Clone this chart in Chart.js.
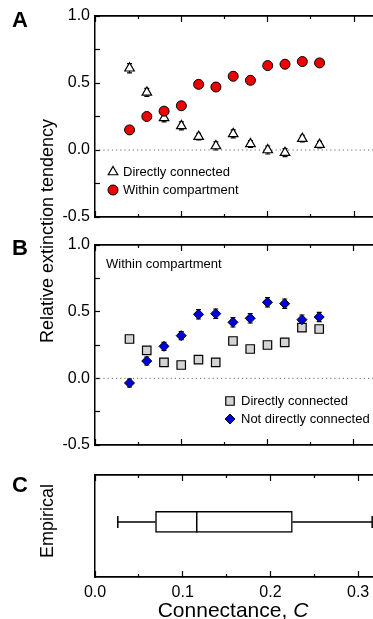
<!DOCTYPE html>
<html>
<head>
<meta charset="utf-8">
<script src="https://cdn.jsdelivr.net/npm/chart.js@4.4.1/dist/chart.umd.min.js"></script>
<style>
  html, body { margin: 0; padding: 0; background: #fff; width: 373px; height: 619px; overflow: hidden; }
  body { position: relative; font-family: "Liberation Sans", Arial, Helvetica, sans-serif; color: #000; }
  .panel { position: absolute; left: 0; }
  .letter { position: absolute; left: 12px; font-weight: bold; font-size: 22px; line-height: 1; transform: translateY(-50%); }
  .vtitle { position: absolute; white-space: nowrap; font-size: 18px; line-height: 1; transform: translate(-50%, -50%) rotate(-90deg); }
  .xtitle { position: absolute; white-space: nowrap; font-size: 21px; line-height: 1; transform: translate(-50%, -50%); }
</style>
</head>
<body>
<div class="panel" style="top:0"><canvas id="chartA" width="404" height="230"></canvas></div>
<div class="panel" style="top:229px"><canvas id="chartB" width="404" height="230"></canvas></div>
<div class="panel" style="top:459px"><canvas id="chartC" width="404" height="160"></canvas></div>

<div class="letter" style="top:20px">A</div>
<div class="letter" style="top:248px">B</div>
<div class="letter" style="top:485px">C</div>
<div class="vtitle" style="left:47px; top:231px">Relative extinction tendency</div>
<div class="vtitle" style="left:47px; top:521px">Empirical</div>
<div class="xtitle" style="left:233px; top:609px">Connectance, <i>C</i></div>

<script>
// data
const connectance = [0.04, 0.06, 0.08, 0.10, 0.12, 0.14, 0.16, 0.18, 0.20, 0.22, 0.24, 0.26];

const directA = [0.61, 0.43, 0.24, 0.18, 0.10, 0.03, 0.12, 0.045, 0.0, -0.02, 0.085, 0.04];
const directAErr = [0.035, 0.03, 0.03, 0.03, 0.025, 0.03, 0.03, 0.025, 0.03, 0.03, 0.025, 0.025];
const withinA = [0.15, 0.25, 0.29, 0.33, 0.49, 0.47, 0.55, 0.52, 0.63, 0.64, 0.66, 0.65];
const withinAErr = [0.02, 0.02, 0.02, 0.025, 0.025, 0.025, 0.03, 0.025, 0.025, 0.025, 0.025, 0.025];

const directB = [0.295, 0.21, 0.12, 0.10, 0.14, 0.12, 0.28, 0.22, 0.25, 0.27, 0.38, 0.37];
const directBErr = [0.025, 0.025, 0.025, 0.025, 0.025, 0.025, 0.025, 0.025, 0.025, 0.025, 0.025, 0.025];
const notDirectB = [-0.035, 0.13, 0.24, 0.32, 0.48, 0.485, 0.42, 0.45, 0.57, 0.56, 0.44, 0.46];
const notDirectBErr = [0.03, 0.03, 0.03, 0.03, 0.035, 0.035, 0.035, 0.035, 0.035, 0.035, 0.035, 0.035];

// min, lower quartile, median, upper quartile, max
const empirical = [0.026, 0.069, 0.116, 0.225, 0.316];

const xMajorTicks = [0, 0.1, 0.2, 0.3];
const xMinorTicks = [0.05, 0.15, 0.25];
const yTicks = [-0.5, -0.25, 0, 0.25, 0.5, 0.75, 1];

Chart.defaults.font.family = '"Liberation Sans", Arial, Helvetica, sans-serif';
Chart.defaults.color = '#000';

const FONT = '"Liberation Sans", Arial, Helvetica, sans-serif';

function xAxis(position, ticks, len, weight) {
    return {
        type: 'linear', position: position, min: 0, max: 0.35, weight: weight,
        afterBuildTicks: s => { s.ticks = ticks.map(v => ({ value: v })); },
        afterFit: s => { s.height = 0; s.paddingLeft = 0; s.paddingRight = 0; },
        grid: { drawOnChartArea: false, tickLength: -len, tickColor: '#000', tickWidth: 1.2 },
        border: { display: true, color: '#000', width: 1.5 },
        ticks: {
            display: false, padding: 12, autoSkip: false, maxRotation: 0,
            font: { size: 16 }, callback: v => v.toFixed(1)
        }
    };
}

function xAxes() {
    return {
        xm: xAxis('bottom', xMinorTicks, 3, 0),
        x: xAxis('bottom', xMajorTicks, 6, 1),
        xtm: xAxis('top', xMinorTicks, 3, 0),
        xt: xAxis('top', xMajorTicks, 6, 1)
    };
}

function yAxis() {
    return {
        type: 'linear', position: 'left', min: -0.5, max: 1,
        afterBuildTicks: s => { s.ticks = yTicks.map(v => ({ value: v })); },
        afterFit: s => { s.width = 95; s.paddingTop = 0; s.paddingBottom = 0; },
        grid: { drawOnChartArea: false, tickLength: -5, tickColor: '#000', tickWidth: 1.2 },
        border: { color: '#000', width: 1.5 },
        ticks: {
            padding: 10, autoSkip: false, font: { size: 16 },
            callback: v => (Math.abs(v * 2 - Math.round(v * 2)) < 1e-9 ? v.toFixed(1) : '')
        }
    };
}

function points(values) {
    return connectance.map((x, i) => ({ x: x, y: values[i] }));
}

function zeroLine() {
    return {
        label: 'zero', data: [{ x: 0, y: 0 }, { x: 0.35, y: 0 }], showLine: true,
        borderColor: '#666', borderWidth: 1, borderDash: [1.2, 3], pointRadius: 0, order: 5
    };
}

// vertical error bars, drawn under the markers
const errorBars = {
    id: 'errorBars',
    beforeDatasetsDraw(chart) {
        const ctx = chart.ctx;
        const ys = chart.scales.y;
        ctx.save();
        ctx.strokeStyle = '#000';
        ctx.lineWidth = 1.2;
        chart.data.datasets.forEach((ds, i) => {
            if (!ds.err) return;
            chart.getDatasetMeta(i).data.forEach((pt, j) => {
                const v = ds.data[j].y;
                const top = ys.getPixelForValue(v + ds.err[j]);
                const bot = ys.getPixelForValue(v - ds.err[j]);
                ctx.beginPath();
                ctx.moveTo(pt.x, top); ctx.lineTo(pt.x, bot);
                ctx.moveTo(pt.x - 2.5, top); ctx.lineTo(pt.x + 2.5, top);
                ctx.moveTo(pt.x - 2.5, bot); ctx.lineTo(pt.x + 2.5, bot);
                ctx.stroke();
            });
        });
        ctx.restore();
    }
};

// legend and note inside the plot area
const insideLegend = {
    id: 'insideLegend',
    afterDraw(chart, args, opts) {
        const ctx = chart.ctx;
        const area = chart.chartArea;
        ctx.save();
        ctx.font = '13px ' + FONT;
        ctx.textBaseline = 'middle';
        ctx.textAlign = 'left';
        (opts.items || []).forEach(item => {
            const ds = chart.data.datasets[item.dataset];
            const x = area.left + item.dx, y = area.top + item.dy;
            ctx.fillStyle = ds.backgroundColor;
            ctx.strokeStyle = ds.borderColor;
            ctx.lineWidth = ds.borderWidth;
            Chart.helpers.drawPoint(ctx, {
                pointStyle: ds.pointStyle, radius: ds.pointRadius, rotation: 0, borderWidth: ds.borderWidth
            }, x, y);
            ctx.fillStyle = '#000';
            ctx.fillText(ds.label, x + item.gap, y);
        });
        if (opts.note) {
            ctx.fillStyle = '#000';
            ctx.fillText(opts.note.text, area.left + opts.note.dx, area.top + opts.note.dy);
        }
        ctx.restore();
    }
};

const baseOptions = (legendOpts, top, bottom) => ({
    responsive: false,
    animation: false,
    layout: { padding: { top: top, bottom: bottom, left: 0, right: 2 } },
    plugins: { legend: { display: false }, tooltip: { enabled: false }, insideLegend: legendOpts },
    scales: Object.assign(xAxes(), { y: yAxis() })
});

new Chart(document.getElementById('chartA'), {
    type: 'scatter',
    data: {
        datasets: [
            {
                label: 'Within compartment', data: points(withinA), err: withinAErr,
                pointStyle: 'circle', pointRadius: 5, backgroundColor: '#ee0000',
                borderColor: '#000', borderWidth: 1, order: 1
            },
            {
                label: 'Directly connected', data: points(directA), err: directAErr,
                pointStyle: 'triangle', pointRadius: 5.5, backgroundColor: '#fff',
                borderColor: '#000', borderWidth: 1.2, order: 2
            },
            zeroLine()
        ]
    },
    options: baseOptions({
        items: [{ dataset: 1, dx: 18, dy: 156, gap: 10 }, { dataset: 0, dx: 18, dy: 174, gap: 10 }]
    }, 16, 13),
    plugins: [errorBars, insideLegend]
});

new Chart(document.getElementById('chartB'), {
    type: 'scatter',
    data: {
        datasets: [
            {
                label: 'Not directly connected', data: points(notDirectB), err: notDirectBErr,
                pointStyle: 'rectRot', pointRadius: 5, backgroundColor: '#0000dd',
                borderColor: '#000', borderWidth: 1, order: 1
            },
            {
                label: 'Directly connected', data: points(directB), err: directBErr,
                pointStyle: 'rect', pointRadius: 6, backgroundColor: '#d4d4d4',
                borderColor: '#000', borderWidth: 1.2, order: 2
            },
            zeroLine()
        ]
    },
    options: baseOptions({
        items: [{ dataset: 1, dx: 135, dy: 156, gap: 11 }, { dataset: 0, dx: 135, dy: 174, gap: 11 }],
        note: { text: 'Within compartment', dx: 11, dy: 19 }
    }, 16, 14),
    plugins: [errorBars, insideLegend]
});

// whiskers and median of the box
const whiskers = {
    id: 'whiskers',
    afterDatasetsDraw(chart) {
        const ctx = chart.ctx;
        const xs = chart.scales.x, ys = chart.scales.y;
        const bar = chart.getDatasetMeta(0).data[0];
        const y = ys.getPixelForValue(0);
        const h = bar.height / 2, cap = 6;
        const px = v => xs.getPixelForValue(v);
        ctx.save();
        ctx.strokeStyle = '#000';
        ctx.lineWidth = 1.5;
        ctx.beginPath();
        ctx.moveTo(px(empirical[0]), y); ctx.lineTo(px(empirical[1]), y);
        ctx.moveTo(px(empirical[3]), y); ctx.lineTo(px(empirical[4]), y);
        ctx.moveTo(px(empirical[0]), y - cap); ctx.lineTo(px(empirical[0]), y + cap);
        ctx.moveTo(px(empirical[4]), y - cap); ctx.lineTo(px(empirical[4]), y + cap);
        ctx.moveTo(px(empirical[2]), y - h); ctx.lineTo(px(empirical[2]), y + h);
        ctx.stroke();
        ctx.restore();
    }
};

// panel C shows the x tick labels, so its major bottom axis needs room for them
const axesC = xAxes();
axesC.x.ticks.display = true;
axesC.x.afterFit = s => { s.height = 36; s.paddingLeft = 0; s.paddingRight = 0; };

new Chart(document.getElementById('chartC'), {
    type: 'bar',
    data: {
        datasets: [{
            label: 'Empirical',
            data: [{ x: [empirical[1], empirical[3]], y: 0 }],
            backgroundColor: '#fff', borderColor: '#000', borderWidth: 1.5,
            borderSkipped: false, barThickness: 21
        }]
    },
    options: {
        responsive: false,
        animation: false,
        indexAxis: 'y',
        layout: { padding: { top: 16, bottom: 6, left: 0, right: 2 } },
        plugins: { legend: { display: false }, tooltip: { enabled: false } },
        scales: Object.assign(axesC, {
            y: {
                type: 'linear', position: 'left', min: -1.1, max: 0.9,
                afterFit: s => { s.width = 95; },
                grid: { display: false },
                border: { color: '#000', width: 1.5 },
                ticks: { display: false }
            }
        })
    },
    plugins: [whiskers]
});
</script>
</body>
</html>
